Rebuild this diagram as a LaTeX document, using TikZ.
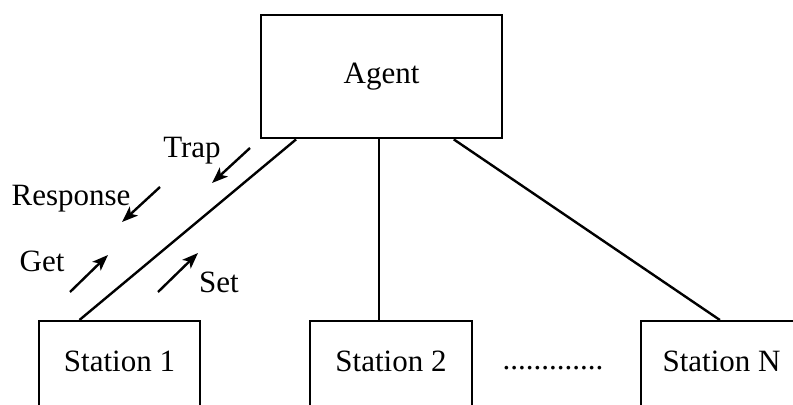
\documentclass[tikz,border=0pt]{standalone}
\usepackage{fontspec}
\setmainfont{Liberation Serif}
\usetikzlibrary{calc,arrows.meta}
\begin{document}
\begin{tikzpicture}[x=0.5pt, y=-0.5pt,
    font=\fontsize{15.5}{18}\selectfont,
    unit/.style ={rectangle, draw, line width=1.2pt, inner sep=0pt, anchor=north},
    link/.style ={line width=1.2pt},
    message/.style ={line width=1.2pt, -{Stealth[length=8pt, width=6pt, inset=2pt]}},
    tag/.style ={anchor=base, inner sep=0pt}]
   \useasboundingbox (0,0) rectangle (793,405);
   \clip (0,0) rectangle (793,405);
   % manager and the managed stations
   \node[unit, minimum width=120.5pt, text height=34pt, text depth=27.5pt] (agent) at (381.5,14) {Agent};
   \node[unit, minimum width=80.5pt, text height=25pt, text depth=40pt] (st1) at (119.5,320) {Station 1};
   \node[unit, minimum width=81pt, text height=25pt, text depth=40pt] (st2) at (391,320) {Station 2};
   \node[unit, minimum width=80.5pt, text height=25pt, text depth=40pt] (stN) at (721.5,320) {Station N};
   \node[tag] (more) at (553,370) {.............};
   \coordinate (c2) at ($(st2.north west)+(70,0)$);
   \draw[link] ($(agent.south west)!.149!(agent.south east)$) to ($(st1.north west)!.255!(st1.north east)$);
   \draw[link] (c2 |- agent.south) to (c2);
   \draw[link] ($(agent.south west)!.797!(agent.south east)$) to ($(stN.north west)!.49!(stN.north east)$);
   % protocol operations
   \node[tag] (trap) at (192,158) {Trap};
   \node[tag] (resp) at (71,206) {Response};
   \node[tag] (get) at (42,272) {Get};
   \node[tag] (set) at (219,293) {Set};
   \draw[message] (250,148) to (212,183);
   \draw[message] (160,187) to (122,222);
   \draw[message] (70,292) to (108,255);
   \draw[message] (158,292) to (198,253);
\end{tikzpicture}
\end{document}
